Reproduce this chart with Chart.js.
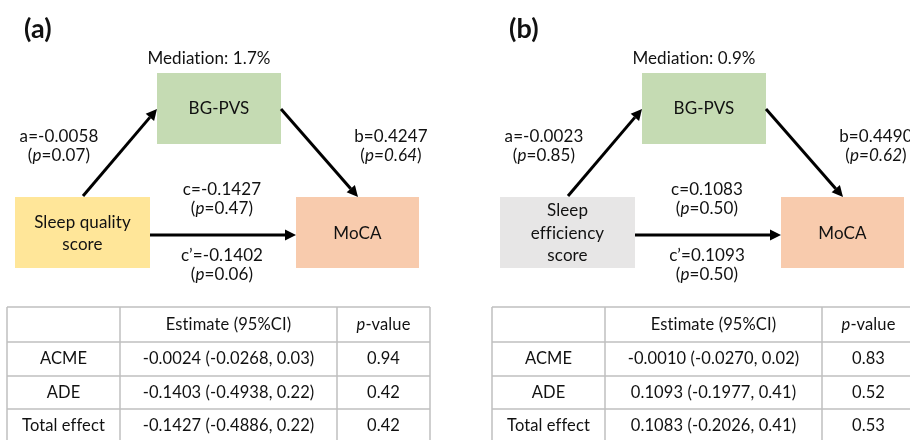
<!DOCTYPE html>
<html>
<head>
<meta charset="utf-8">
<script src="https://cdn.jsdelivr.net/npm/chart.js@4.4.0/dist/chart.umd.min.js"></script>
<style>
html, body { margin: 0; padding: 0; background: #fff; }
#wrap { width: 910px; height: 440px; }
</style>
</head>
<body>
<div id="wrap"><canvas id="chart" width="910" height="440"></canvas></div>
<script>
// Datos del diagrama de mediación
const panelLabels = ['(a)', '(b)'];
const exposureLabels = [['Sleep quality', 'score'], ['Sleep', 'efficiency', 'score']];
const mediatorLabel = 'BG-PVS';
const outcomeLabel = 'MoCA';
const mediationPct = ['1.7%', '0.9%'];
const aValues = ['-0.0058', '-0.0023'];
const aPValues = ['0.07', '0.85'];
const bValues = ['0.4247', '0.4490'];
const bPValues = ['0.64', '0.62'];
const cValues = ['-0.1427', '0.1083'];
const cPValues = ['0.47', '0.50'];
const cPrimeValues = ['-0.1402', '0.1093'];
const cPrimePValues = ['0.06', '0.50'];

// Tabla de efectos
const effectNames = ['ACME', 'ADE', 'Total effect'];
const estimatesA = ['-0.0024 (-0.0268, 0.03)', '-0.1403 (-0.4938, 0.22)', '-0.1427 (-0.4886, 0.22)'];
const pValuesA = ['0.94', '0.42', '0.42'];
const estimatesB = ['-0.0010 (-0.0270, 0.02)', '0.1093 (-0.1977, 0.41)', '0.1083 (-0.2026, 0.41)'];
const pValuesB = ['0.83', '0.52', '0.53'];

// Geometría (unidades de la escala, panel (a); el panel (b) se desplaza)
const PANEL_SHIFT = 485;
const layout = {
    title: { x: 24, y: 29 },
    mediation: { x: 209, y: 59 },
    boxM: { x0: 157, x1: 281, y0: 73, y1: 144 },
    boxX: { x0: 15, x1: 150, y0: 197, y1: 268 },
    boxY: { x0: 296, x1: 419, y0: 197, y1: 268 },
    arrowA: [83, 196, 157, 109],
    arrowB: [281, 109, 358, 197],
    arrowC: [150, 235, 296, 235],
    labelA: { x: 59, y: 137 },
    labelB: { x: 391, y: 137 },
    labelC: { x: 222, y: 190 },
    labelCp: { x: 222, y: 256 },
    lineGap: 19,
    tableCols: [7, 120, 337, 430],
    tableRows: [307, 342, 376, 409, 443]
};

const FONT = 'Lato, "Open Sans", sans-serif';
const TEXT = '#111';
const colors = {
    mediator: '#c5dbb3',
    exposure: ['#ffe699', '#e7e6e6'],
    outcome: '#f8cbad',
    grid: '#bfbfbf'
};

function font(size, italic, bold) {
    return (italic ? 'italic ' : '') + (bold ? 'bold ' : '') + size + 'px ' + FONT;
}

// Texto con tramos en cursiva, centrado en (cx, cy)
function richText(ctx, segs, cx, cy, size) {
    ctx.letterSpacing = '0.1px'; // evita ligaduras (ti, ffi)
    let total = 0;
    segs.forEach(s => { ctx.font = font(size, s[1]); total += ctx.measureText(s[0]).width; });
    let x = cx - total / 2;
    ctx.textAlign = 'left';
    ctx.textBaseline = 'middle';
    segs.forEach(s => {
        ctx.font = font(size, s[1]);
        ctx.fillText(s[0], x, cy);
        x += ctx.measureText(s[0]).width;
    });
}

function arrow(ctx, x0, y0, x1, y1) {
    const ang = Math.atan2(y1 - y0, x1 - x0);
    const head = 11, half = 5.5;
    const bx = x1 - head * Math.cos(ang), by = y1 - head * Math.sin(ang);
    ctx.strokeStyle = '#000';
    ctx.lineWidth = 3;
    ctx.beginPath();
    ctx.moveTo(x0, y0);
    ctx.lineTo(bx, by);
    ctx.stroke();
    ctx.fillStyle = '#000';
    ctx.beginPath();
    ctx.moveTo(x1, y1);
    ctx.lineTo(bx + half * Math.sin(ang), by - half * Math.cos(ang));
    ctx.lineTo(bx - half * Math.sin(ang), by + half * Math.cos(ang));
    ctx.closePath();
    ctx.fill();
}

const diagramPlugin = {
    id: 'mediationDiagram',
    afterDraw(chart) {
        const ctx = chart.ctx;
        const xs = chart.scales.x, ys = chart.scales.y;
        const Y = v => ys.getPixelForValue(v);
        ctx.save();

        panelLabels.forEach((panel, i) => {
            const X = v => xs.getPixelForValue(v + i * PANEL_SHIFT);
            const L = layout;
            const size = 17;

            ctx.fillStyle = TEXT;
            ctx.font = font(27, false, true);
            ctx.textAlign = 'left';
            ctx.textBaseline = 'middle';
            ctx.fillText(panel, X(L.title.x), Y(L.title.y));

            richText(ctx, [['Mediation: ' + mediationPct[i], false]], X(L.mediation.x), Y(L.mediation.y), size);

            // Cajas
            const box = (b, fill) => {
                ctx.fillStyle = fill;
                ctx.fillRect(X(b.x0), Y(b.y0), X(b.x1) - X(b.x0), Y(b.y1) - Y(b.y0));
            };
            box(L.boxM, colors.mediator);
            box(L.boxX, colors.exposure[i]);
            box(L.boxY, colors.outcome);

            ctx.fillStyle = TEXT;
            const mid = b => [X((b.x0 + b.x1) / 2), Y((b.y0 + b.y1) / 2)];
            let [mx, my] = mid(L.boxM);
            richText(ctx, [[mediatorLabel, false]], mx, my, size);
            [mx, my] = mid(L.boxY);
            richText(ctx, [[outcomeLabel, false]], mx, my + 1, size);
            [mx, my] = mid(L.boxX);
            const lines = exposureLabels[i];
            const step = 22.5;
            lines.forEach((ln, k) => {
                richText(ctx, [[ln, false]], mx, my + 1 + (k - (lines.length - 1) / 2) * step, size);
            });

            // Flechas
            [L.arrowA, L.arrowB, L.arrowC].forEach(a => arrow(ctx, X(a[0]), Y(a[1]), X(a[2]), Y(a[3])));

            // Coeficientes
            ctx.fillStyle = TEXT;
            const coef = (pos, name, val, p, allItalic) => {
                richText(ctx, [[name + '=' + val, false]], X(pos.x), Y(pos.y), size);
                const segs = allItalic
                    ? [['(', false], ['p=' + p, true], [')', false]]
                    : [['(', false], ['p', true], ['=' + p + ')', false]];
                richText(ctx, segs, X(pos.x), Y(pos.y + L.lineGap), size);
            };
            coef(L.labelA, 'a', aValues[i], aPValues[i], false);
            coef(L.labelB, 'b', bValues[i], bPValues[i], true);
            coef(L.labelC, 'c', cValues[i], cPValues[i], false);
            coef(L.labelCp, 'c\u2019', cPrimeValues[i], cPrimePValues[i], false);

            // Tabla
            const cols = L.tableCols, rows = L.tableRows;
            ctx.strokeStyle = colors.grid;
            ctx.lineWidth = 1.5;
            rows.forEach(r => {
                ctx.beginPath();
                ctx.moveTo(X(cols[0]), Y(r));
                ctx.lineTo(X(cols[cols.length - 1]), Y(r));
                ctx.stroke();
            });
            cols.forEach(c => {
                ctx.beginPath();
                ctx.moveTo(X(c), Y(rows[0]));
                ctx.lineTo(X(c), Y(rows[rows.length - 1]));
                ctx.stroke();
            });
            ctx.fillStyle = TEXT;
            const cx = k => (X(cols[k]) + X(cols[k + 1])) / 2;
            const cy = k => (Y(rows[k]) + Y(rows[k + 1])) / 2;
            const tsize = 16.5;
            richText(ctx, [['Estimate (95%CI)', false]], cx(1), cy(0), tsize);
            richText(ctx, [['p', true], ['-value', false]], cx(2), cy(0), tsize);
            const est = i === 0 ? estimatesA : estimatesB;
            const pv = i === 0 ? pValuesA : pValuesB;
            effectNames.forEach((name, k) => {
                richText(ctx, [[name, false]], cx(0), cy(k + 1), tsize);
                richText(ctx, [[est[k], false]], cx(1), cy(k + 1), tsize);
                richText(ctx, [[pv[k], false]], cx(2), cy(k + 1), tsize);
            });
        });

        ctx.restore();
    }
};

new Chart(document.getElementById('chart'), {
    type: 'scatter',
    data: { datasets: [{ data: [] }] },
    options: {
        responsive: false,
        animation: false,
        devicePixelRatio: 1,
        layout: { padding: 0 },
        plugins: { legend: { display: false }, tooltip: { enabled: false } },
        scales: {
            x: { type: 'linear', min: 0, max: 910, display: false },
            y: { type: 'linear', min: 0, max: 440, reverse: true, display: false }
        }
    },
    plugins: [diagramPlugin]
});
</script>
</body>
</html>
